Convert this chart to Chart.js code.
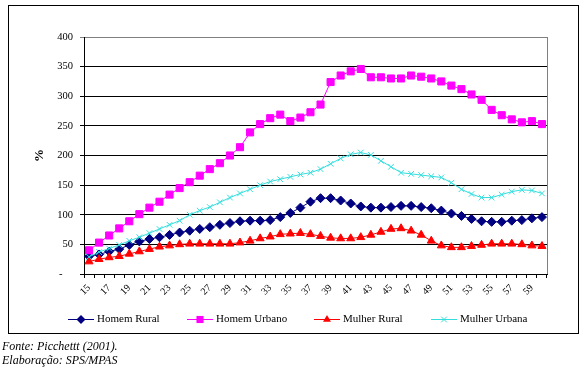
<!DOCTYPE html>
<html>
<head>
<meta charset="utf-8">
<script src="https://cdn.jsdelivr.net/npm/chart.js"></script>
<style>
  body { margin: 0; background: #fff; }
  #wrap { position: relative; width: 588px; height: 369px; }
  .src { position: absolute; left: 2px; font: italic 12px "Liberation Serif", serif; line-height: 14px; color: #000; }
</style>
</head>
<body>
<div id="wrap">
  <canvas id="myChart" width="588" height="369"></canvas>
  <div class="src" style="top:339px">Fonte: Picchettt (2001).</div>
  <div class="src" style="top:353px">Elaboração: SPS/MPAS</div>
</div>
<script>
// ages on the x axis
const ages = [15, 16, 17, 18, 19, 20, 21, 22, 23, 24, 25, 26, 27, 28, 29, 30,
  31, 32, 33, 34, 35, 36, 37, 38, 39, 40, 41, 42, 43, 44, 45, 46, 47, 48, 49, 50,
  51, 52, 53, 54, 55, 56, 57, 58, 59, 60];

const homemRural = [30, 33, 38, 42, 49, 55, 59, 62, 66, 70, 73, 76, 79, 83, 86, 89,
  90, 90, 91, 96, 103, 112, 122, 128, 128, 124, 119, 114, 112, 112, 113, 115, 115, 113, 111, 107,
  102, 98, 93, 89, 88, 88, 90, 91, 94, 96];

const homemUrbano = [40, 53, 65, 77, 89, 101, 112, 122, 134, 145, 155, 166, 177, 187, 200, 214,
  239, 253, 263, 269, 258, 264, 273, 286, 324, 335, 342, 346, 332, 332, 330, 330, 335, 333, 330, 325,
  318, 312, 303, 294, 277, 268, 261, 256, 258, 253];

const mulherRural = [21, 25, 28, 30, 34, 38, 42, 46, 48, 50, 51, 51, 51, 51, 51, 53,
  56, 60, 63, 67, 68, 69, 67, 64, 61, 60, 60, 62, 66, 71, 76, 77, 73, 66, 56, 48,
  45, 45, 47, 49, 51, 51, 51, 50, 48, 47];

const mulherUrbana = [29, 37, 43, 49, 56, 62, 69, 76, 83, 90, 100, 107, 113, 121, 129, 136,
  143, 150, 156, 160, 164, 168, 171, 177, 186, 195, 202, 205, 201, 191, 181, 171, 169, 167, 165, 163,
  154, 143, 135, 129, 129, 134, 139, 142, 141, 136];

const seriesNames = ['Homem Rural', 'Homem Urbano', 'Mulher Rural', 'Mulher Urbana'];
const yTicks = [0, 50, 100, 150, 200, 250, 300, 350, 400];

const SERIF = '"Liberation Serif", "Times New Roman", serif';

const styles = [
  { color: '#000080', pointStyle: 'rectRot', radius: 4.5 },
  { color: '#FF00FF', pointStyle: 'rect', radius: 5 },
  { color: '#FF0000', pointStyle: 'triangle', radius: 4.6 },
  { color: '#33DDDD', pointStyle: 'crossRot', radius: 4 },
];
const legendX = [68, 187, 314, 431];

// draw a marker like chart.js does
const drawMarker = (ctx, style, x, y) => {
  const r = style.radius;
  ctx.save();
  ctx.fillStyle = style.color;
  ctx.strokeStyle = style.color;
  ctx.lineWidth = 1;
  ctx.beginPath();
  if (style.pointStyle === 'rect') {
    const s = Math.SQRT1_2 * r;
    ctx.rect(x - s, y - s, 2 * s, 2 * s);
    ctx.fill();
  } else if (style.pointStyle === 'rectRot') {
    ctx.moveTo(x, y - r); ctx.lineTo(x + r, y); ctx.lineTo(x, y + r); ctx.lineTo(x - r, y);
    ctx.closePath(); ctx.fill();
  } else if (style.pointStyle === 'triangle') {
    ctx.moveTo(x, y - r);
    ctx.lineTo(x + r * 0.866, y + r * 0.5);
    ctx.lineTo(x - r * 0.866, y + r * 0.5);
    ctx.closePath(); ctx.fill();
  } else {
    const s = r * Math.SQRT1_2;
    ctx.moveTo(x - s, y - s); ctx.lineTo(x + s, y + s);
    ctx.moveTo(x + s, y - s); ctx.lineTo(x - s, y + s);
    ctx.stroke();
  }
  ctx.restore();
};

// frame, right plot border and legend
const framePlugin = {
  id: 'frame',
  beforeDatasetsDraw(chart) {
    const { ctx, chartArea } = chart;
    ctx.save();
    ctx.strokeStyle = '#808080';
    ctx.lineWidth = 1;
    ctx.beginPath();
    ctx.moveTo(Math.round(chartArea.right) + 0.5, chartArea.top);
    ctx.lineTo(Math.round(chartArea.right) + 0.5, chartArea.bottom);
    ctx.stroke();
    ctx.restore();
  },
  afterDraw(chart) {
    const ctx = chart.ctx;
    ctx.save();
    ctx.strokeStyle = '#000';
    ctx.lineWidth = 1;
    ctx.strokeRect(8.5, 5.5, 570, 328);

    const y = 319.5;
    ctx.font = '11px ' + SERIF;
    ctx.textBaseline = 'middle';
    ctx.textAlign = 'left';
    seriesNames.forEach((name, i) => {
      const x = legendX[i];
      ctx.strokeStyle = styles[i].color;
      ctx.beginPath();
      ctx.moveTo(x, y);
      ctx.lineTo(x + 26, y);
      ctx.stroke();
      drawMarker(ctx, styles[i], x + 13, y);
      ctx.fillStyle = '#000';
      ctx.fillText(name, x + 29, y);
    });
    ctx.restore();
  },
};

const seriesData = [homemRural, homemUrbano, mulherRural, mulherUrbana];

const datasets = seriesNames.map((name, i) => ({
  label: name,
  data: seriesData[i],
  borderColor: styles[i].color,
  backgroundColor: styles[i].color,
  borderWidth: 1,
  pointStyle: styles[i].pointStyle,
  pointRadius: styles[i].radius,
  pointBorderWidth: 1,
  pointBorderColor: styles[i].color,
  pointBackgroundColor: styles[i].color,
  tension: 0,
  order: 4 - i,
}));

let ctx = document.getElementById('myChart').getContext('2d');

new Chart(ctx, {
  type: 'line',
  data: { labels: ages, datasets },
  options: {
    responsive: false,
    animation: false,
    layout: { padding: { left: 32, right: 41, top: 37, bottom: 61 } },
    plugins: { legend: { display: false }, tooltip: { enabled: false } },
    scales: {
      x: {
        type: 'category',
        offset: true,
        afterFit: (scale) => { scale.height = 34; },
        grid: { display: true, drawOnChartArea: false, drawTicks: true, tickLength: 4, offset: true, color: '#000' },
        border: { display: true, color: '#000', width: 1 },
        ticks: {
          autoSkip: false,
          maxRotation: 45,
          minRotation: 45,
          padding: 4,
          color: '#000',
          font: { family: SERIF, size: 10 },
          callback: (val, i) => (i % 2 === 0 ? String(ages[i]) : ''),
        },
      },
      y: {
        min: 0,
        max: 400,
        afterFit: (scale) => { scale.width = 52; },
        afterBuildTicks: (scale) => { scale.ticks = yTicks.map((v) => ({ value: v })); },
        grid: {
          color: (c) => (c.tick && c.tick.value === 400 ? '#808080' : '#000'),
          lineWidth: 1,
          tickLength: 4,
          drawTicks: true,
        },
        border: { display: true, color: '#000', width: 1 },
        ticks: {
          padding: 7,
          color: '#000',
          font: { family: SERIF, size: 10.5 },
          callback: (v) => (v === 0 ? '-    ' : String(v)),
        },
        title: {
          display: true,
          text: '%',
          color: '#000',
          font: { family: SERIF, size: 13, weight: 'bold' },
          padding: 0,
        },
      },
    },
  },
  plugins: [framePlugin],
});
</script>
</body>
</html>
